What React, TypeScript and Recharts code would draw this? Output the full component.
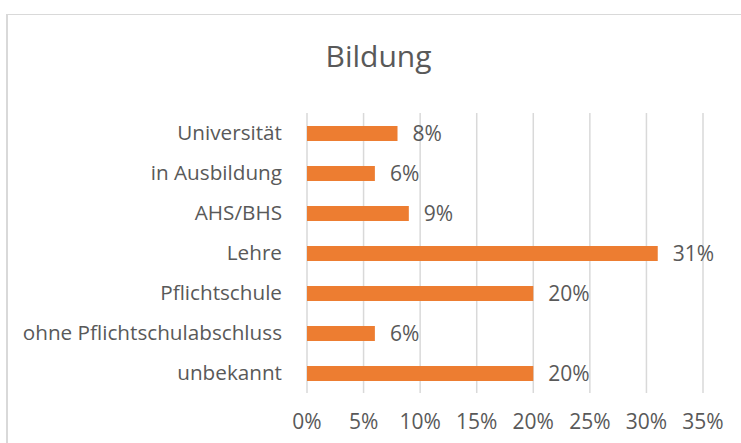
import { BarChart, Bar, XAxis, YAxis, CartesianGrid, LabelList } from 'recharts';

const categories = [
  'Universität',
  'in Ausbildung',
  'AHS/BHS',
  'Lehre',
  'Pflichtschule',
  'ohne Pflichtschulabschluss',
  'unbekannt',
];
const shares = [8, 6, 9, 31, 20, 6, 20];
const xTicks = [0, 5, 10, 15, 20, 25, 30, 35];

const data = categories.map((name, i) => ({ name, value: shares[i] }));

const font = '"Open Sans", sans-serif';
const textColor = '#595959';

export default function App() {
  return (
    <div
      style={{
        position: 'fixed',
        left: 0,
        top: 0,
        width: 741,
        height: 443,
        overflow: 'hidden',
        fontFamily: font,
        background: '#fff',
      }}
    >
      {/* chart frame, cut off by the window on the right and bottom */}
      <div
        style={{
          position: 'absolute',
          left: 6,
          top: 14,
          width: 900,
          height: 900,
          borderLeft: '2px solid #d9d9d9',
          borderTop: '1.5px solid #d9d9d9',
          boxSizing: 'border-box',
        }}
      />
      <div
        style={{
          position: 'absolute',
          left: 8,
          width: 741,
          top: 35,
          textAlign: 'center',
          fontSize: 30,
          color: textColor,
          lineHeight: 'normal',
        }}
      >
        Bildung
      </div>
      <div style={{ position: 'absolute', left: 8, top: 8 }}>
        <BarChart
          width={733}
          height={435}
          data={data}
          layout="vertical"
          margin={{ top: 105, right: 38, bottom: 0, left: 0 }}
          barCategoryGap={0}
        >
          <CartesianGrid horizontal={false} stroke="#d9d9d9" strokeWidth={1.5} />
          <XAxis
            type="number"
            domain={[0, 35]}
            ticks={xTicks}
            tickFormatter={(v: number) => `${v}%`}
            axisLine={false}
            tickLine={false}
            tickMargin={15}
            height={50}
            tick={{ fill: textColor, fontSize: 21, fontFamily: font }}
          />
          <YAxis
            type="category"
            dataKey="name"
            width={299}
            axisLine={false}
            tickLine={false}
            tickMargin={19}
            interval={0}
            tick={{ fill: textColor, fontSize: 20.7, fontFamily: font }}
          />
          <Bar dataKey="value" fill="#ED7D31" barSize={15} isAnimationActive={false}>
            <LabelList
              dataKey="value"
              position="right"
              offset={15}
              formatter={(v: number) => `${v}%`}
              fill={textColor}
              fontSize={21}
              fontFamily={font}
            />
          </Bar>
        </BarChart>
      </div>
    </div>
  );
}
